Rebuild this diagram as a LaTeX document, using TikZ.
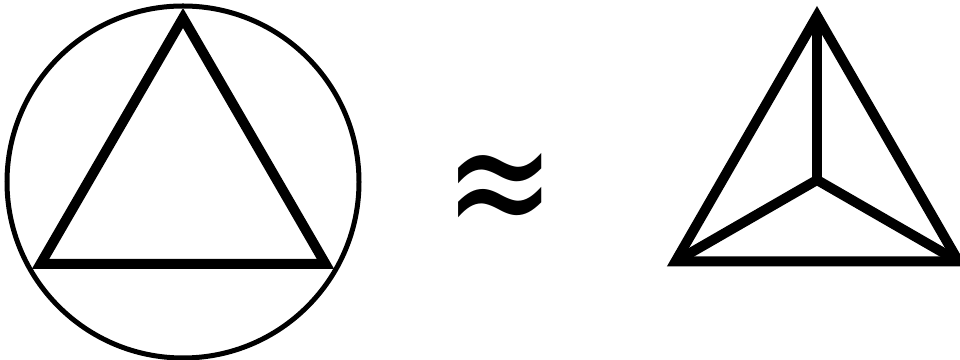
\documentclass[tikz,border=0pt]{standalone}
\usepackage{fontspec}
\newfontfamily\symfont{DejaVu Sans}
\usetikzlibrary{positioning,calc}
\tikzset{%
  ring/.style={draw,line width=0.1cm},
  edge/.style={draw,line width=0.2cm,line join=miter,miter limit=10},
  relation/.style={inner sep=0pt,font=\symfont\fontsize{70}{70}\selectfont}%
}

\begin{document}
\begin{tikzpicture}

\useasboundingbox (0,0) rectangle (19.2,7.2);

% Left: circle with inscribed triangle
\node[ring,circle,minimum size=7.04cm,inner sep=0pt] (circ) at (3.66,3.56) {};
\coordinate (ltop) at (3.66,6.84);
\coordinate (lleft) at (0.81,1.92);
\coordinate (lright) at (6.51,1.92);
\draw[edge] (ltop) -- (lleft) -- (lright) -- cycle;

% Middle: approximately equal
\node[relation] (approx) at (10.0,3.25) {\scalebox{1.08}[1.45]{≈}};

% Right: triangle with centre point
\coordinate (rtop) at (16.34,6.88);
\coordinate (rleft) at (13.51,1.97);
\coordinate (rright) at (19.17,1.97);
\coordinate (rmid) at (16.34,3.6);
\draw[edge] (rtop) -- (rleft) -- (rright) -- cycle;
\draw[edge] (rmid) -- (rtop);
\draw[edge] (rmid) -- (rleft);
\draw[edge] (rmid) -- (rright);

\end{tikzpicture}
\end{document}
